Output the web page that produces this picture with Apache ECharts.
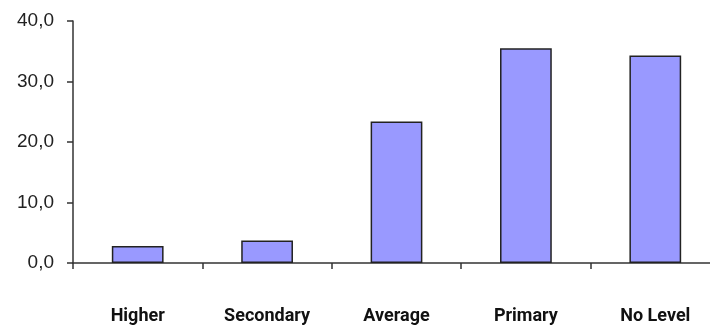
<!DOCTYPE html>
<html>
<head>
<meta charset="utf-8">
<script src="https://cdn.jsdelivr.net/npm/echarts@6/dist/echarts.min.js"></script>
<style>
  html, body { margin: 0; padding: 0; background: #fff; }
  #chart { width: 710px; height: 327px; }
</style>
</head>
<body>
<div id="chart"></div>
<script>
// Education level categories and their percentages
const categories = ['Higher', 'Secondary', 'Average', 'Primary', 'No Level'];
const values = [2.8, 3.7, 23.4, 35.5, 34.3];
const yTicks = { min: 0, max: 40, interval: 10 };

const chart = echarts.init(document.getElementById('chart'));
chart.setOption({
  animation: false,
  grid: { left: 73, top: 21, width: 647, height: 242, containLabel: false, outerBoundsMode: 'none' },
  xAxis: {
    type: 'category',
    data: categories,
    boundaryGap: true,
    axisLine: { lineStyle: { color: '#333', width: 1.5 } },
    axisTick: { show: true, length: 6, interval: 0, alignWithLabel: false, lineStyle: { color: '#333', width: 1.5 } },
    axisLabel: {
      interval: 0,
      margin: 44,
      color: '#111',
      fontFamily: 'Roboto, sans-serif',
      fontWeight: 'bold',
      fontSize: 18
    },
    splitLine: { show: false }
  },
  yAxis: {
    type: 'value',
    min: yTicks.min,
    max: yTicks.max,
    interval: yTicks.interval,
    axisLine: { show: true, lineStyle: { color: '#333', width: 1.5 } },
    axisTick: { show: true, length: 6, lineStyle: { color: '#333', width: 1.5 } },
    axisLabel: {
      margin: 19,
      color: '#222',
      fontFamily: '"Liberation Sans", Arial, sans-serif',
      fontSize: 19,
      formatter: v => v.toFixed(1).replace('.', ',')
    },
    splitLine: { show: false }
  },
  series: [{
    type: 'bar',
    data: values,
    barWidth: '40%',
    itemStyle: { color: '#9999FF', borderColor: '#222', borderWidth: 1.5 }
  }]
});
</script>
</body>
</html>
